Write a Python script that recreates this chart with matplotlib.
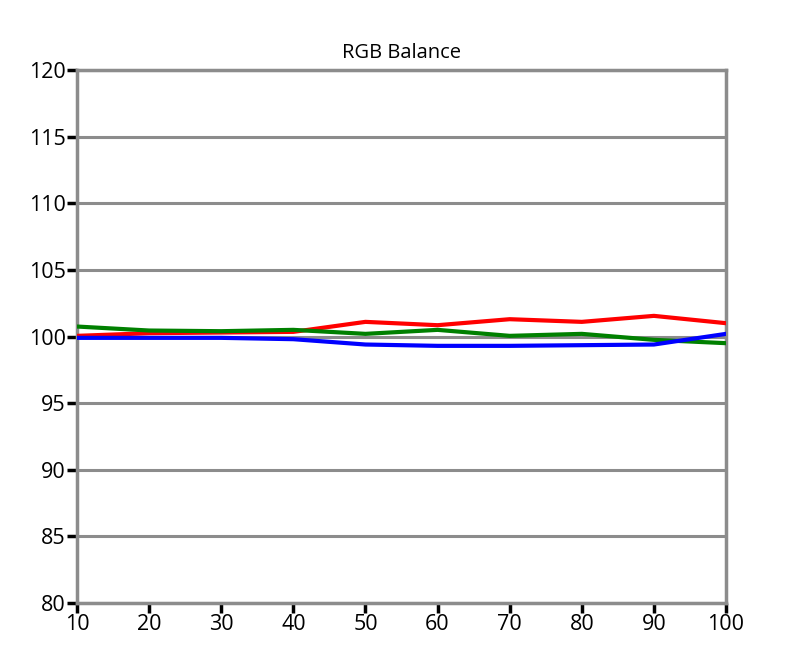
import matplotlib
matplotlib.use('Agg')
import matplotlib.pyplot as plt

# RGB balance readings per stimulus level
levels = [10, 20, 30, 40, 50, 60, 70, 80, 90, 100]
red = [100.05, 100.25, 100.3, 100.35, 101.1, 100.85, 101.3, 101.1, 101.55, 101.0]
green = [100.75, 100.45, 100.4, 100.5, 100.2, 100.5, 100.05, 100.2, 99.75, 99.5]
blue = [99.9, 99.9, 99.9, 99.8, 99.4, 99.3, 99.3, 99.35, 99.4, 100.2]

yticks = list(range(80, 121, 5))

plt.rcParams['font.family'] = ['Open Sans', 'DejaVu Sans']

fig = plt.figure(figsize=(7.92, 6.65), dpi=100)
ax = fig.add_axes([0.0972, 0.0932, 0.8195, 0.8015])

for y in yticks:
    ax.axhline(y, color='#8c8c8c', lw=2.2, zorder=1)

ax.plot(levels, red, color='#ff0000', lw=3, zorder=3)
ax.plot(levels, green, color='#008000', lw=3, zorder=3)
ax.plot(levels, blue, color='#0000ff', lw=3, zorder=4)

ax.set_xlim(10, 100)
ax.set_ylim(80, 120)
ax.set_xticks(levels)
ax.set_yticks(yticks)
for s in ax.spines.values():
    s.set_color('#8c8c8c')
    s.set_linewidth(2.5)
ax.tick_params(axis='both', color='black', width=2.5, length=7, labelsize=15.5, pad=1)
ax.set_title('RGB Balance', fontsize=14.5, pad=9)

fig.savefig('out.png', dpi=100)
